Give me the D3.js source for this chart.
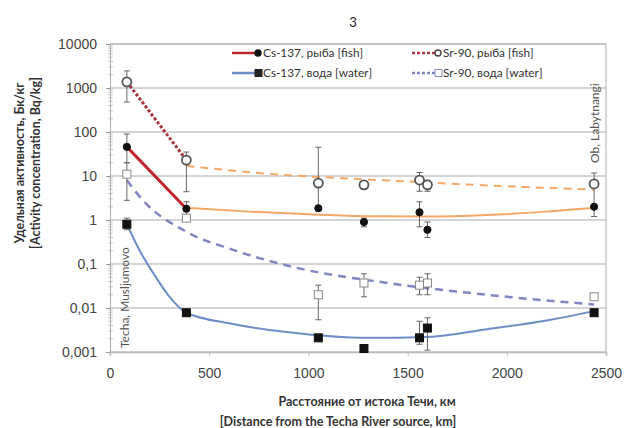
<!DOCTYPE html>
<html><head><meta charset="utf-8">
<script src="https://cdn.jsdelivr.net/npm/d3@7"></script>
<style>body{margin:0;background:#fff}svg{display:block;font-family:Lato,"Open Sans",sans-serif}</style>
</head><body><svg id="c" width="624" height="428"></svg>
<script>
const distances = [85, 385, 1050, 1280, 1560, 1600, 2440];
const csFish = [46, 1.8, 1.85, 0.9, 1.5, 0.6, 2.0];
const csFishErr = [[20, 90], [1.2, 2.6], null, [0.7, 1.1], [0.7, 2.6], [0.4, 0.9], null];
const srFish = [1380, 23, 6.9, 6.3, 8.1, 6.3, 6.6];
const srFishErr = [[480, 2450], [4.4, 35], [2, 45], [5, 7.5], [4.5, 12], [4.5, 8], [1.2, 11.7]];
const csWater = [0.8, 0.0078, 0.0021, 0.0012, 0.0021, 0.0035, 0.0078];
const csWaterErr = [[0.6, 1.1], null, null, null, [0.0015, 0.005], [0.0011, 0.006], null];
const srWater = [11, 1.1, 0.02, 0.037, 0.033, 0.037, 0.018];
const srWaterErr = [[2.8, 20], null, [0.0054, 0.033], [0.018, 0.06], [0.02, 0.05], [0.02, 0.06], null];

// trend curves
const csFishTrendX = [385, 700, 1000, 1300, 1600, 1900, 2200, 2440];
const csFishTrendY = [1.9, 1.55, 1.35, 1.22, 1.2, 1.3, 1.55, 1.9];
const srFishTrendX = [385, 600, 900, 1200, 1500, 1800, 2100, 2440];
const srFishTrendY = [17, 13.5, 10.4, 8.8, 7.5, 6.4, 5.6, 4.9];
const csWaterTrendX = [85, 150, 220, 300, 385, 600, 900, 1300, 1600, 1900, 2200, 2440];
const csWaterTrendY = [0.8, 0.2, 0.06, 0.018, 0.0078, 0.0045, 0.0028, 0.0021, 0.0022, 0.0033, 0.0052, 0.0085];
const srWaterTrendX = [85, 166, 385, 620, 940, 1400, 1900, 2440];
const srWaterTrendY = [8, 2.8, 0.54, 0.21, 0.082, 0.037, 0.02, 0.012];

const xTicks = [0, 500, 1000, 1500, 2000, 2500];
const yTicks = [0.001, 0.01, 0.1, 1, 10, 100, 1000, 10000];
const yTickLabels = ["0,001", "0,01", "0,1", "1", "10", "100", "1000", "10000"];
const legendLabels = ["Cs-137, рыба [fish]", "Sr-90, рыба [fish]", "Cs-137, вода [water]", "Sr-90, вода [water]"];

const svg = d3.select("#c");
const x = d3.scaleLinear().domain([0, 2500]).range([110, 606]);
const y = d3.scaleLog().domain([0.001, 10000]).range([352, 44]);

const RED = "#c0272d", ORANGE = "#f3a867", BLUE = "#6c8dc8", BLUED = "#7f86c2";

// gridlines
svg.append("g").selectAll("line").data(yTicks.slice(0, -1)).join("line")
  .attr("x1", x(0)).attr("x2", x(2500)).attr("y1", d => y(d)).attr("y2", d => y(d))
  .attr("stroke", "#d4d4d4").attr("stroke-width", 2);
// frame
svg.append("line").attr("x1", x(0)).attr("x2", x(2500)).attr("y1", y(10000)).attr("y2", y(10000)).attr("stroke", "#8a8a8a").attr("stroke-width", 1.2);
svg.append("line").attr("x1", x(2500)).attr("x2", x(2500)).attr("y1", y(10000)).attr("y2", y(0.001)).attr("stroke", "#bbb").attr("stroke-width", 1.2);

// y axis
const yAxis = svg.append("g").attr("transform", `translate(${x(0)},0)`)
  .call(d3.axisLeft(y).tickValues(yTicks).tickFormat((d, i) => yTickLabels[i]).tickSize(4).tickPadding(9));
yAxis.select(".domain").attr("stroke", "#aaa");
yAxis.selectAll(".tick line").attr("stroke", "#999");
yAxis.selectAll("text").attr("font-size", 14).attr("fill", "#444");
const minor = [];
for (let e = -3; e < 4; e++) for (let k = 2; k < 10; k++) minor.push(k * Math.pow(10, e));
svg.append("g").selectAll("line").data(minor).join("line")
  .attr("x1", x(0) - 2).attr("x2", x(0) + 3).attr("y1", d => y(d)).attr("y2", d => y(d))
  .attr("stroke", "#bbb").attr("stroke-width", 0.8);

// x axis
const xAxis = svg.append("g").attr("transform", `translate(0,${y(0.001)})`)
  .call(d3.axisBottom(x).tickValues(xTicks).tickFormat(d3.format("d")).tickSize(4).tickPadding(12));
xAxis.select(".domain").attr("stroke", "#bbb").attr("stroke-width", 1.5);
xAxis.selectAll(".tick line").attr("stroke", "#bbb");
xAxis.selectAll("text").attr("font-size", 14).attr("fill", "#444");

const line = (xs, ys, curve) => d3.line().x(d => x(d[0])).y(d => y(d[1])).curve(curve)(xs.map((v, i) => [v, ys[i]]));

// trend lines
svg.append("path").attr("d", line(csWaterTrendX, csWaterTrendY, d3.curveMonotoneX)).attr("fill", "none").attr("stroke", BLUE).attr("stroke-width", 2);
svg.append("path").attr("d", line(srWaterTrendX, srWaterTrendY, d3.curveMonotoneX)).attr("fill", "none").attr("stroke", BLUED).attr("stroke-width", 2.5).attr("stroke-dasharray", "8,6");
svg.append("path").attr("d", line(csFishTrendX, csFishTrendY, d3.curveMonotoneX)).attr("fill", "none").attr("stroke", ORANGE).attr("stroke-width", 2);
svg.append("path").attr("d", line(srFishTrendX, srFishTrendY, d3.curveMonotoneX)).attr("fill", "none").attr("stroke", ORANGE).attr("stroke-width", 2).attr("stroke-dasharray", "8,6");
// red connectors between the first two points
svg.append("path").attr("d", line(distances.slice(0, 2), csFish.slice(0, 2), d3.curveLinear)).attr("fill", "none").attr("stroke", RED).attr("stroke-width", 3);
svg.append("path").attr("d", line(distances.slice(0, 2), srFish.slice(0, 2), d3.curveLinear)).attr("fill", "none").attr("stroke", "#a8323a").attr("stroke-width", 3).attr("stroke-dasharray", "3,2");

// error bars
function errBars(errs) {
  const g = svg.append("g").attr("stroke", "#666").attr("stroke-width", 1);
  errs.forEach((e, i) => {
    if (!e) return;
    const cx = x(distances[i]);
    g.append("line").attr("x1", cx).attr("x2", cx).attr("y1", y(e[0])).attr("y2", y(e[1]));
    g.append("line").attr("x1", cx - 3).attr("x2", cx + 3).attr("y1", y(e[0])).attr("y2", y(e[0]));
    g.append("line").attr("x1", cx - 3).attr("x2", cx + 3).attr("y1", y(e[1])).attr("y2", y(e[1]));
  });
}
errBars(srFishErr); errBars(csFishErr); errBars(srWaterErr); errBars(csWaterErr);

// markers
function circles(vals, filled) {
  svg.append("g").selectAll("circle").data(vals).join("circle")
    .attr("cx", (d, i) => x(distances[i])).attr("cy", d => y(d)).attr("r", filled ? 3.6 : 4.5)
    .attr("fill", filled ? "#111" : "#fff").attr("stroke", filled ? "#111" : "#555").attr("stroke-width", filled ? 1 : 1.8);
}
function squares(vals, filled) {
  const s = 8;
  svg.append("g").selectAll("rect").data(vals).join("rect")
    .attr("x", (d, i) => x(distances[i]) - s / 2).attr("y", d => y(d) - s / 2).attr("width", s).attr("height", s)
    .attr("fill", filled ? "#111" : "#fff").attr("stroke", filled ? "#111" : "#888").attr("stroke-width", 1);
}
squares(srWater, false); squares(csWater, true); circles(srFish, false); circles(csFish, true);

// legend
const leg = [
  {lx: 232, ly: 53, c: RED, dash: null, m: "c", f: true},
  {lx: 412, ly: 53, c: "#b23a44", dash: "3,2", m: "c", f: false},
  {lx: 232, ly: 73, c: BLUE, dash: null, m: "s", f: true},
  {lx: 412, ly: 73, c: BLUED, dash: "3,2", m: "s", f: false}
];
leg.forEach((d, i) => {
  const g = svg.append("g");
  g.append("line").attr("x1", d.lx).attr("x2", d.lx + 26).attr("y1", d.ly).attr("y2", d.ly).attr("stroke", d.c).attr("stroke-width", 2.5).attr("stroke-dasharray", d.dash);
  if (d.m === "c") g.append("circle").attr("cx", d.lx + 26).attr("cy", d.ly).attr("r", 3).attr("fill", d.f ? "#111" : "#fff").attr("stroke", d.f ? "#111" : "#444").attr("stroke-width", 1.4);
  else g.append("rect").attr("x", d.lx + 23).attr("y", d.ly - 3.5).attr("width", 7).attr("height", 7).attr("fill", d.f ? "#222" : "#fff").attr("stroke", d.f ? "#222" : "#8890c4");
  g.append("text").attr("x", d.lx + 31).attr("y", d.ly + 4).attr("font-size", 11.8).attr("fill", "#333").text(legendLabels[i]);
});

// annotations
svg.append("text").attr("x", 353).attr("y", 27).attr("font-size", 13).attr("fill", "#222").attr("text-anchor", "middle").text("3");
svg.append("text").attr("transform", "translate(129,348) rotate(-90)").attr("font-size", 12).attr("fill", "#555").text("Techa, Musljumovo");
svg.append("text").attr("transform", "translate(599,163) rotate(-90)").attr("font-size", 12).attr("fill", "#555").text("Ob, Labytnangi");

// axis titles
const yt = svg.append("text").attr("transform", "translate(0,163) rotate(-90)").attr("font-size", 12.5).attr("font-weight", "bold").attr("fill", "#333").attr("text-anchor", "middle");
yt.append("tspan").attr("x", 0).attr("y", 24).text("Удельная активность, Бк/кг");
yt.append("tspan").attr("x", 0).attr("y", 40).text("[Activity concentration, Bq/kg]");
svg.append("text").attr("x", 367).attr("y", 406).attr("font-size", 12.5).attr("font-weight", "bold").attr("fill", "#333").attr("text-anchor", "middle").text("Расстояние от истока Течи, км");
svg.append("text").attr("x", 338).attr("y", 426).attr("font-size", 12.5).attr("font-weight", "bold").attr("fill", "#333").attr("text-anchor", "middle").text("[Distance from the Techa River source, km]");
</script></body></html>
